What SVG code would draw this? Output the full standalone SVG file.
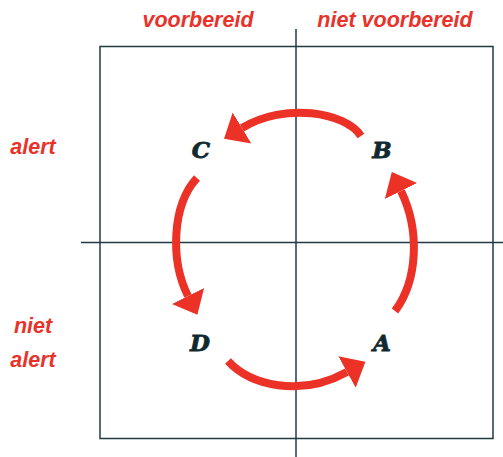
<svg xmlns="http://www.w3.org/2000/svg" width="503" height="457" viewBox="0 0 503 457">
  <style>
    .axis { stroke: #213b42; stroke-width: 1.5; fill: none; }
    .lbl { fill: #e8322a; font-family: "Liberation Sans", Arial, sans-serif; font-weight: bold; font-style: italic; font-size: 21.5px; text-anchor: middle; }
    .node { fill: #10292f; stroke: #10292f; stroke-width: 0.8; font-family: "DejaVu Serif", "Liberation Serif", serif; font-weight: bold; font-style: italic; font-size: 23px; text-anchor: middle; }
    .arc { stroke: #ec3127; stroke-width: 8; fill: none; marker-end: url(#head); }
  </style>
  <defs>
    <marker id="head" markerUnits="userSpaceOnUse" markerWidth="24" markerHeight="40" viewBox="0 -20 24 40" refX="0" refY="0" orient="auto">
      <path d="M0,-18 L21,0 L0,18 Z" fill="#ec3127"/>
    </marker>
  </defs>
  <rect width="503" height="457" fill="#ffffff"/>
  <g id="grid">
    <rect class="axis" x="100" y="46.5" width="393" height="392"/>
    <line class="axis" x1="296" y1="29" x2="296" y2="457"/>
    <line class="axis" x1="81" y1="242.5" x2="503" y2="242.5"/>
  </g>
  <g id="axis-labels">
    <text class="lbl" x="198" y="27">voorbereid</text>
    <text class="lbl" x="395" y="27">niet voorbereid</text>
    <text class="lbl" x="33" y="154" font-size="23">alert</text>
    <text class="lbl" x="33" y="333" font-size="23">niet</text>
    <text class="lbl" x="33" y="367" font-size="23">alert</text>
  </g>
  <g id="node-C"><text class="node" x="201" y="158">C</text></g>
  <g id="node-B"><text class="node" x="382" y="158">B</text></g>
  <g id="node-D"><text class="node" x="200" y="351">D</text></g>
  <g id="node-A"><text class="node" x="382" y="351">A</text></g>
  <g id="connectors">
    <path class="arc" d="M361,136 C345,112 285,102 242,128"/>
    <path class="arc" d="M197,178 C172,205 170,260 188,296"/>
    <path class="arc" d="M228,361 C250,385 300,398 347,372"/>
    <path class="arc" d="M395,311 C418,280 420,230 401,191"/>
  </g>
</svg>
